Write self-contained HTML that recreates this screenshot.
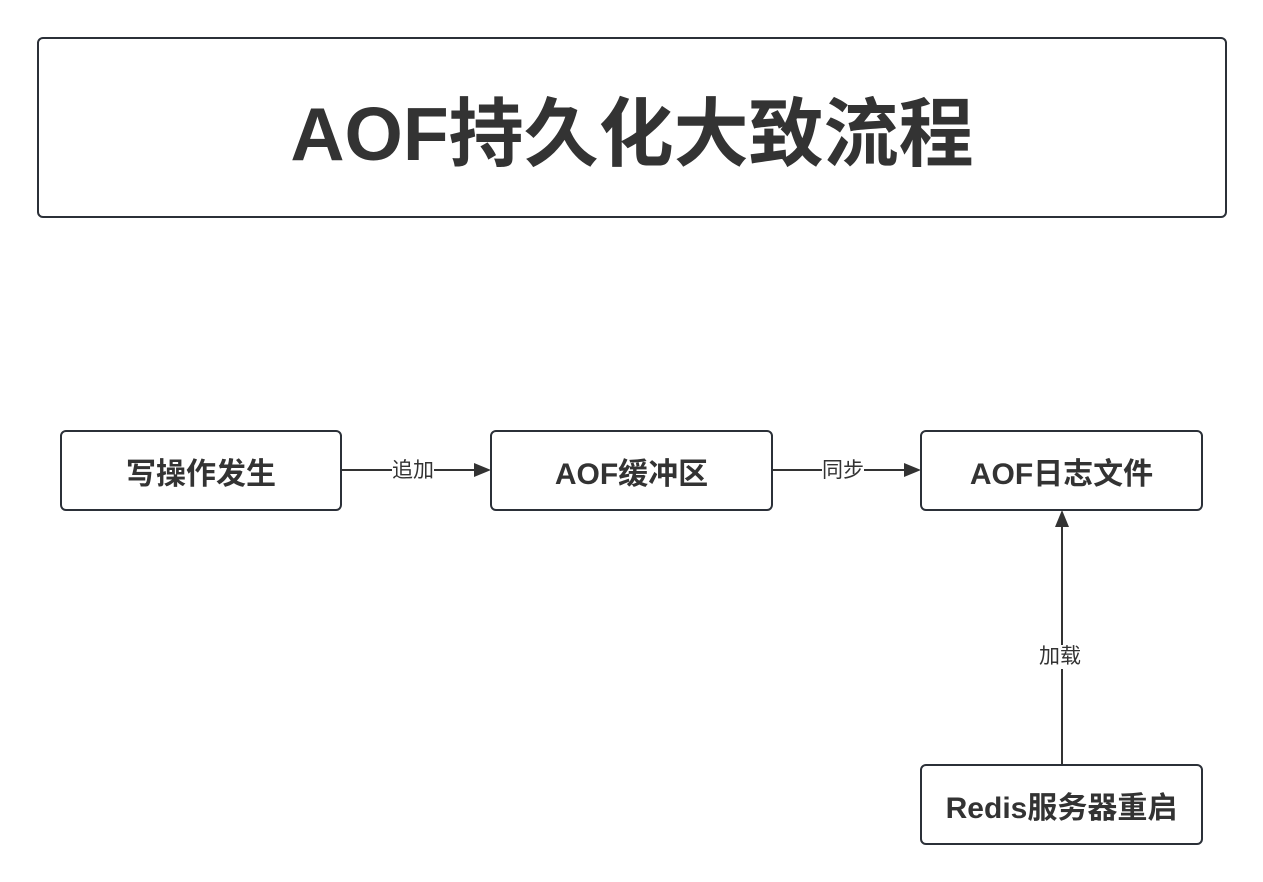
<!DOCTYPE html>
<html><head><meta charset="utf-8"><style>
body{margin:0;width:1263px;height:882px;background:#fff;overflow:hidden;font-family:"Liberation Sans","Noto Sans CJK SC",sans-serif;color:#333;}
.box{position:absolute;box-sizing:border-box;border:2px solid #2b3038;border-radius:6px;background:#fff;display:flex;align-items:center;justify-content:center;font-weight:bold;}
.n{font-size:30px;}
.lab{position:absolute;font-size:21px;background:#fff;line-height:24px;}
</style></head><body>
<div class="box" style="left:37px;top:37px;width:1190px;height:181px;font-size:75px;">AOF持久化大致流程</div>
<svg width="1263" height="882" style="position:absolute;left:0;top:0">
<g stroke="#333" stroke-width="2" fill="#333">
<line x1="341" y1="470" x2="480" y2="470"/><polygon points="491,470 474,463 474,477" stroke="none"/>
<line x1="772" y1="470" x2="910" y2="470"/><polygon points="921,470 904,463 904,477" stroke="none"/>
<line x1="1062" y1="765" x2="1062" y2="522"/><polygon points="1062,510 1055,527 1069,527" stroke="none"/>
</g></svg>
<div class="box n" style="left:60px;top:430px;width:282px;height:81px;">写操作发生</div>
<div class="box n" style="left:490px;top:430px;width:283px;height:81px;">AOF缓冲区</div>
<div class="box n" style="left:920px;top:430px;width:283px;height:81px;">AOF日志文件</div>
<div class="box n" style="left:920px;top:764px;width:283px;height:81px;">Redis服务器重启</div>
<div class="lab" style="left:392px;top:459px;">追加</div>
<div class="lab" style="left:822px;top:459px;">同步</div>
<div class="lab" style="left:1039px;top:645px;">加载</div>
</body></html>
